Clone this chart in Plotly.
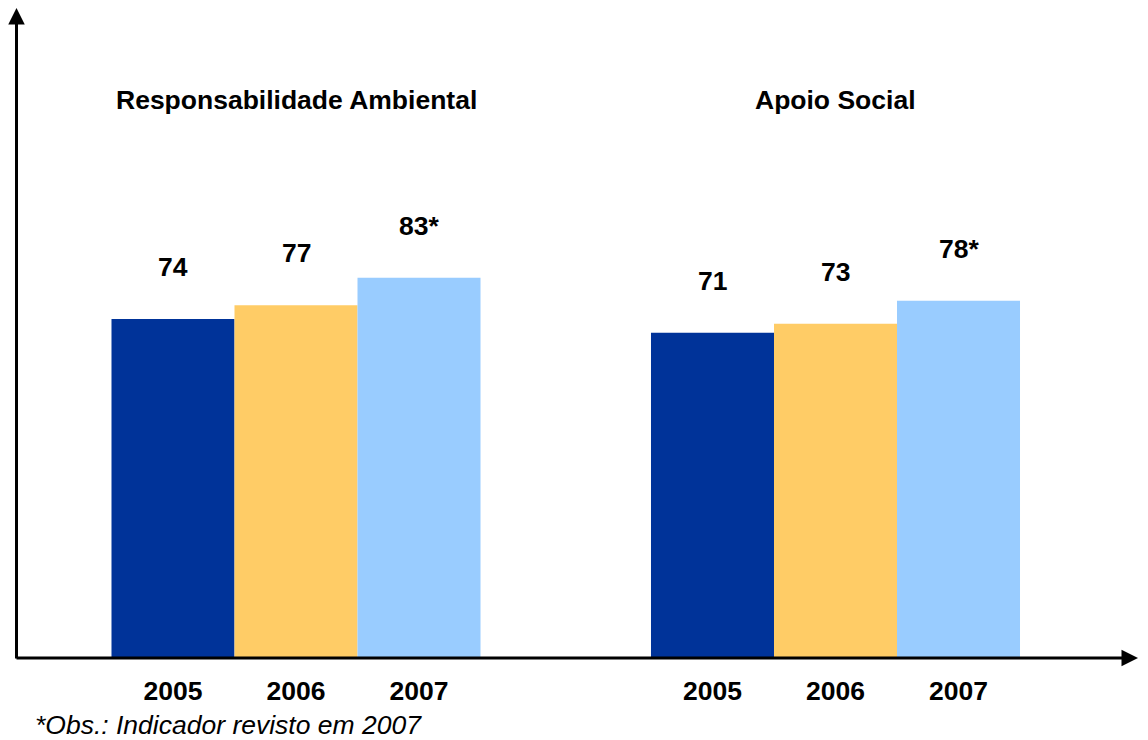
import plotly.graph_objects as go

# Indicator scores by theme and year
groups = ["Responsabilidade Ambiental", "Apoio Social"]
years = ["2005", "2006", "2007"]
scores = {
    "2005": [74, 71],
    "2006": [77, 73],
    "2007": [83, 78],
}
revised_mark = {"2005": "", "2006": "", "2007": "*"}
bar_colors = {"2005": "#003399", "2006": "#FFCC66", "2007": "#99CCFF"}
footnote = "*Obs.: Indicador revisto em 2007"

FONT = "Liberation Sans, Arial, sans-serif"
FS = 26.5
BARGAP = 0.316
group_pos = list(range(len(groups)))
bar_w = (1 - BARGAP) / len(years)

fig = go.Figure()
for y in years:
    fig.add_trace(go.Bar(
        x=group_pos, y=scores[y], name=y,
        marker=dict(color=bar_colors[y], line=dict(width=0)),
        hoverinfo="skip",
    ))

annotations = []
# value labels above each bar
for i, y in enumerate(years):
    off = (i - (len(years) - 1) / 2) * bar_w
    for g, v in zip(group_pos, scores[y]):
        annotations.append(dict(
            x=g + off, y=v, xref="x", yref="y",
            text=f"{v}{revised_mark[y]}", showarrow=False,
            yanchor="middle", yshift=52,
            font=dict(family=FONT, size=FS, color="black", weight="bold"),
        ))

# group titles
for g, name in zip(group_pos, groups):
    annotations.append(dict(
        x=g, y=0.8585, xref="x", yref="paper", text=name, showarrow=False,
        yanchor="middle",
        font=dict(family=FONT, size=FS, color="black", weight="bold"),
    ))

# footnote
annotations.append(dict(
    x=0.016, y=-0.103, xref="paper", yref="paper", text=f"<i>{footnote}</i>",
    showarrow=False, xanchor="left", yanchor="middle",
    font=dict(family=FONT, size=FS, color="black"),
))

# axis arrows
annotations.append(dict(
    x=1123 / 1133, y=0, xref="paper", yref="paper", ax=-1123, ay=0,
    axref="pixel", ayref="pixel", text="", showarrow=True,
    arrowhead=2, arrowsize=1.1, arrowwidth=3, arrowcolor="black", standoff=0,
))
annotations.append(dict(
    x=1.5 / 1133, y=1, xref="paper", yref="paper", ax=0, ay=652,
    axref="pixel", ayref="pixel", text="", showarrow=True,
    arrowhead=2, arrowsize=1.1, arrowwidth=3, arrowcolor="black", standoff=0,
))

tickvals, ticktext = [], []
for g in group_pos:
    for i, y in enumerate(years):
        tickvals.append(g + (i - (len(years) - 1) / 2) * bar_w)
        ticktext.append(y)

fig.update_layout(
    width=1148, height=740,
    margin=dict(l=15, r=0, t=8, b=82, pad=0),
    barmode="group", bargap=BARGAP, bargroupgap=0,
    showlegend=False,
    plot_bgcolor="white", paper_bgcolor="white",
    annotations=annotations,
    xaxis=dict(
        range=[(15 - 296) / 539.5, (1148 - 296) / 539.5],
        tickvals=tickvals, ticktext=ticktext,
        showgrid=False, zeroline=False, showline=False, ticks="",
        ticklabelstandoff=14,
        tickfont=dict(family=FONT, size=FS, color="black", weight="bold"),
        fixedrange=True,
    ),
    yaxis=dict(
        range=[0, 650 / 4.58], visible=False, showgrid=False, zeroline=False,
        fixedrange=True,
    ),
)

fig.write_html("out.html", config={"displayModeBar": False})
